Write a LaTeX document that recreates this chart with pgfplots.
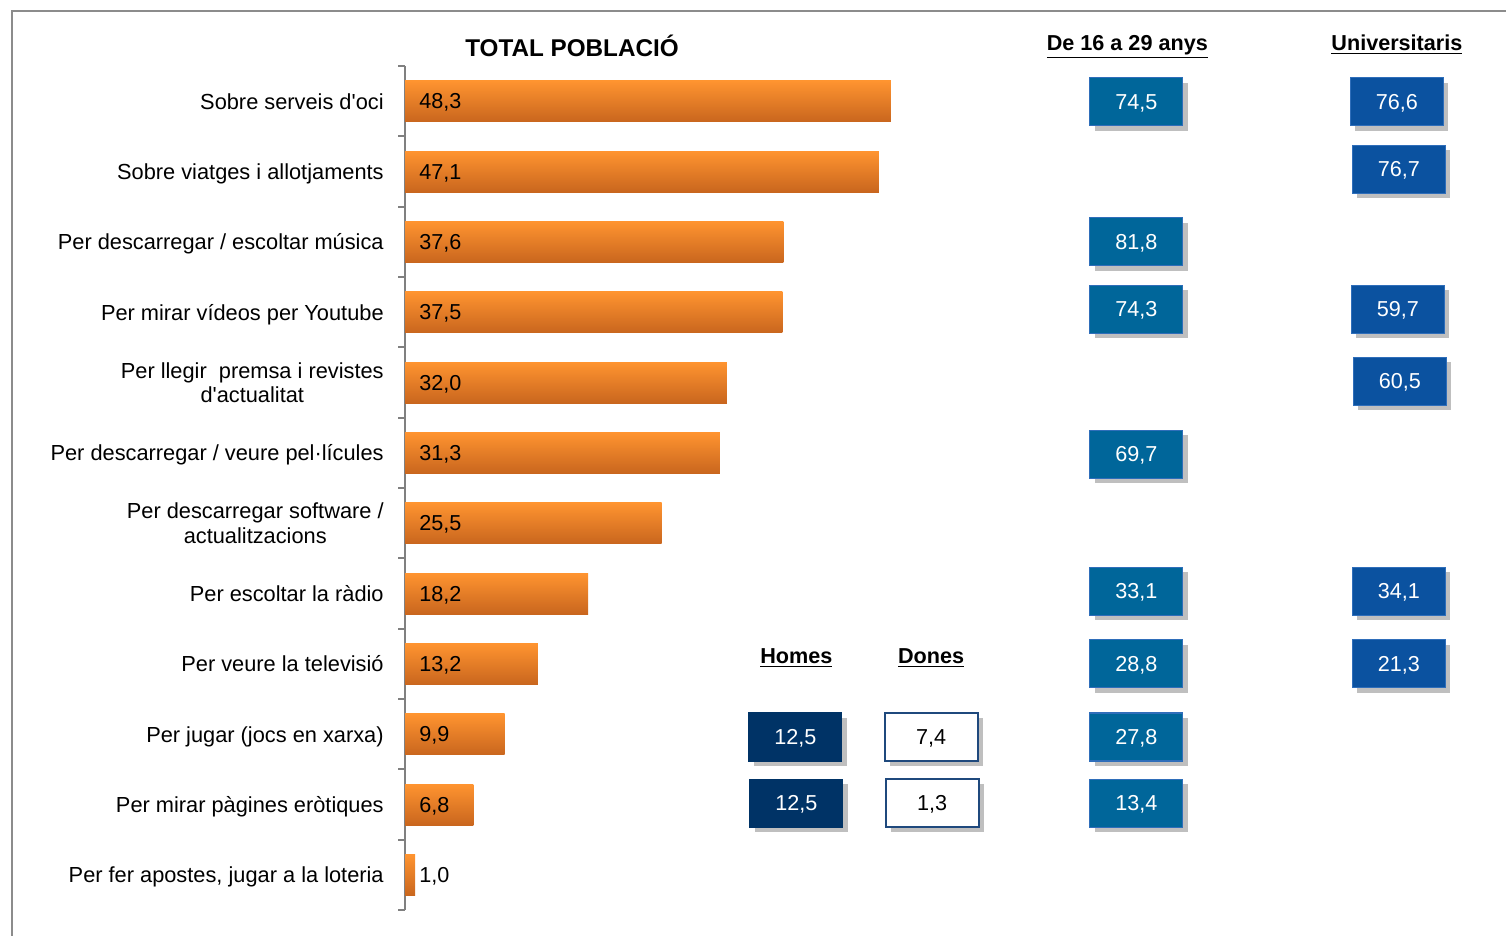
\documentclass[border=0pt]{standalone}
\usepackage{pgfplots}
\pgfplotsset{compat=1.18}
\usepackage{fontspec}
\setmainfont{Liberation Sans}
\usetikzlibrary{shadows}
\newlength\px \setlength\px{0.2mm}
\definecolor{barTop}{HTML}{FF9430}
\definecolor{barBot}{HTML}{C9661E}
\definecolor{boxA}{HTML}{00669A}
\definecolor{boxB}{HTML}{0B52A0}
\definecolor{boxH}{HTML}{003366}
\definecolor{boxBorder}{HTML}{2F6EBA}
\definecolor{doneBorder}{HTML}{1F497D}
\definecolor{frameGray}{HTML}{8C8C8C}
\newcommand\q{\textquotesingle}
\tikzset{
  valbox/.style={anchor=center, minimum width=93\px, minimum height=48\px, inner sep=0pt,
     text height=8.6pt, text depth=0pt,
     font=\fontsize{12.3}{14}\selectfont, line width=1.2\px,
     drop shadow={shadow xshift=5\px, shadow yshift=-5\px, fill=gray!50, opacity=1}},
}
\pgfplotsset{
  numfmt/.style={nodes near coords={\pgfmathprintnumber[use comma,fixed,fixed zerofill,precision=1,assume math mode=true]{\pgfplotspointmeta}},
    point meta=explicit},
  orangebar/.style={xbar, draw=none, top color=barTop, bottom color=barBot, forget plot},
}
\begin{document}
\begin{tikzpicture}
\useasboundingbox (0,0) rectangle (1506\px,-935\px);
\draw[frameGray, line width=2\px] (12\px,-1000\px) -- (12\px,-11\px) -- (1600\px,-11\px);
\begin{axis}[
  at={(405\px,-66\px)}, anchor=north west,
  scale only axis, width=1006\px, height=844\px,
  xmin=0, xmax=100, ymin=-0.5, ymax=11.5, y dir=reverse,
  axis x line=none, axis y line*=left,
  axis line style={draw=gray, line width=2.5\px},
  ytick={0,...,11},
  yticklabels={{Sobre serveis d\q oci}, {Sobre viatges i allotjaments}, {Per descarregar / escoltar música},
    {Per mirar vídeos per Youtube}, {Per llegir \ premsa i revistes\\d\q actualitat}, {Per descarregar / veure pel·lícules},
    {Per descarregar software /\\actualitzacions}, {Per escoltar la ràdio}, {Per veure la televisió},
    {Per jugar (jocs en xarxa)}, {Per mirar pàgines eròtiques}, {Per fer apostes, jugar a la loteria}},
  major tick length=0pt,
  minor ytick={-0.5,0.5,...,11.5}, minor tick length=7\px, tick align=outside,
  minor tick style={draw=gray, line width=2\px},
  yticklabel style={font=\fontsize{12.4}{14}\selectfont, align=center, inner sep=0pt, text depth=0pt, xshift=-21\px},
  clip=false,
  bar width=41\px,
]
\addplot[orangebar] coordinates {(48.3,0)};
\addplot[orangebar] coordinates {(47.1,1)};
\addplot[orangebar] coordinates {(37.6,2)};
\addplot[orangebar] coordinates {(37.5,3)};
\addplot[orangebar] coordinates {(32.0,4)};
\addplot[orangebar] coordinates {(31.3,5)};
\addplot[orangebar] coordinates {(25.5,6)};
\addplot[orangebar] coordinates {(18.2,7)};
\addplot[orangebar] coordinates {(13.2,8)};
\addplot[orangebar] coordinates {(9.9,9)};
\addplot[orangebar] coordinates {(6.8,10)};
\addplot[orangebar] coordinates {(1.0,11)};
\addplot[draw=none, mark=none, numfmt,
  every node near coord/.style={anchor=west, inner sep=0pt, xshift=14\px, text height=8.6pt, text depth=0pt, font=\fontsize{12.3}{14}\selectfont}]
  table[x expr=0, y=y, meta=v] {
 y v
 0 48.3
 1 47.1
 2 37.6
 3 37.5
 4 32.0
 5 31.3
 6 25.5
 7 18.2
 8 13.2
 9 9.9
 10 6.8
 11 1.0
};
% De 16 a 29 anys
\addplot[draw=none, mark=none, numfmt,
  every node near coord/.style={valbox, fill=boxA, draw=boxBorder, text=white}]
  table[x=x, y=y, meta=v] {
 x y v
 72.7 0.01 74.5
 72.7 2.0 81.8
 72.7 2.96 74.3
 72.7 5.02 69.7
 72.7 6.97 33.1
 72.7 8.0 28.8
 72.7 9.04 27.8
 72.7 9.98 13.4
};
% Universitaris
\addplot[draw=none, mark=none, numfmt,
  every node near coord/.style={valbox, fill=boxB, draw=boxBorder, text=white}]
  table[x=x, y=y, meta=v] {
 x y v
 98.6 0.01 76.6
 98.8 0.97 76.7
 98.7 2.96 59.7
 98.9 3.98 60.5
 98.8 6.97 34.1
 98.8 8.0 21.3
};
% Homes
\addplot[draw=none, mark=none, numfmt,
  every node near coord/.style={valbox, fill=boxH, draw=boxH, text=white}]
  table[x=x, y=y, meta=v] {
 x y v
 38.8 9.04 12.5
 38.9 9.98 12.5
};
% Dones
\addplot[draw=none, mark=none, numfmt,
  every node near coord/.style={valbox, fill=white, draw=doneBorder, line width=2\px, text=black}]
  table[x=x, y=y, meta=v] {
 x y v
 52.3 9.04 7.4
 52.4 9.98 1.3
};
\node[anchor=base, font=\bfseries\fontsize{13.8}{16}\selectfont] at (axis cs:16.6,-0.64) {TOTAL POBLACIÓ};
\node[anchor=base, font=\bfseries\fontsize{12.3}{14}\selectfont] at (axis cs:71.8,-0.725) {\underline{De 16 a 29 anys}};
\node[anchor=base, font=\bfseries\fontsize{12.3}{14}\selectfont] at (axis cs:98.6,-0.725) {\underline{Universitaris}};
\node[anchor=base, font=\bfseries\fontsize{12.3}{14}\selectfont] at (axis cs:38.9,7.995) {\underline{Homes}};
\node[anchor=base, font=\bfseries\fontsize{12.3}{14}\selectfont] at (axis cs:52.3,7.995) {\underline{Dones}};
\end{axis}
\end{tikzpicture}
\end{document}
